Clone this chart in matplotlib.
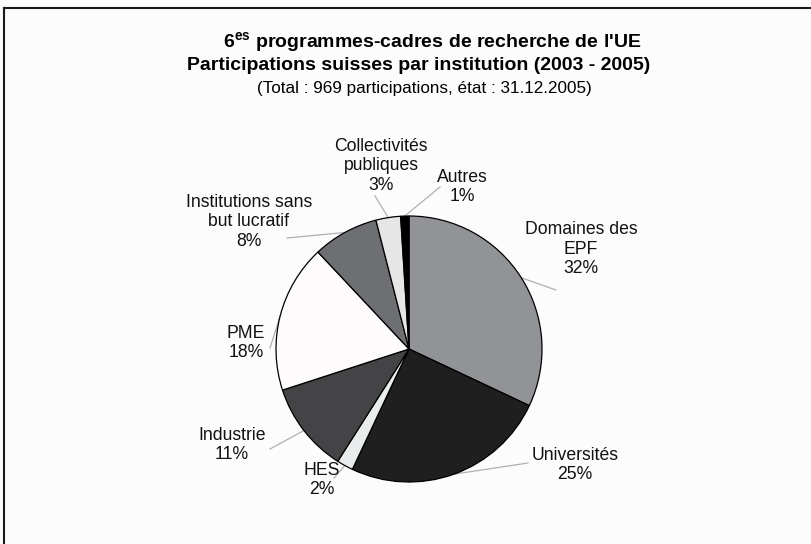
import numpy as np
import matplotlib.pyplot as plt

plt.rcParams['font.family'] = ['Liberation Sans', 'DejaVu Sans']
plt.rcParams['mathtext.fontset'] = 'custom'
plt.rcParams['mathtext.rm'] = 'Liberation Sans'
plt.rcParams['mathtext.bf'] = 'Liberation Sans:bold'

# données
institutions = ['Domaines des\nEPF', 'Universités', 'HES', 'Industrie', 'PME',
                'Institutions sans\nbut lucratif', 'Collectivités\npubliques', 'Autres']
parts = [32, 25, 2, 11, 18, 8, 3, 1]
couleurs = ['#929396', '#1f1f20', '#e9ecec', '#444446', '#fdfbfb',
            '#6e6f72', '#e6e6e6', '#000000']

# position des étiquettes (pixels) et extrémité des traits
label_pos = [(581, 249), (575, 465), (322, 480), (232, 445), (246, 343),
             (249, 222), (381, 166), (462, 187)]
leader_end = [(556, 290), (528, 463), (334, 478), (270, 449), (270, 348),
              (287, 238), (375, 196), (440, 187)]

W, H = 812, 544
cx, cy, r = 409, 349, 133

fig = plt.figure(figsize=(W / 100, H / 100), dpi=100)
fig.patch.set_facecolor('#fcfcfc')
ax = fig.add_axes([0, 0, 1, 1])
ax.set_xlim(0, W)
ax.set_ylim(H, 0)
ax.axis('off')

# pie dessiné dans un axe normal (y vers le haut) : on retourne le centre
ax2 = fig.add_axes([0, 0, 1, 1])
wedges, _ = ax2.pie(parts, colors=couleurs, startangle=90, counterclock=False,
                    center=(cx, H - cy), radius=r, frame=True,
                    wedgeprops=dict(edgecolor='black', linewidth=0.9))
ax2.set_xlim(0, W)
ax2.set_ylim(0, H)
ax2.axis('off')

for w, lab, p, (lx, ly), (ex, ey) in zip(wedges, institutions, parts, label_pos, leader_end):
    ang = np.deg2rad((w.theta1 + w.theta2) / 2)
    sx = cx + r * np.cos(ang)
    sy = cy - r * np.sin(ang)
    ax.plot([sx, ex], [sy, ey], color='#b0b0b0', lw=0.9)
    ax.text(lx, ly, f'{lab}\n{p}%', ha='center', va='center', fontsize=12.7,
            linespacing=1.2, color='#111111')

# titre
ax.text(432, 48, r"6$^{\mathbf{es}}$ programmes-cadres de recherche de l'UE",
        ha='center', va='baseline', fontsize=14, fontweight='bold')
ax.text(419, 70, 'Participations suisses par institution (2003 - 2005)',
        ha='center', va='baseline', fontsize=14, fontweight='bold')
ax.text(424, 93, '(Total : 969 participations, état : 31.12.2005)',
        ha='center', va='baseline', fontsize=12.3)

# cadre (haut et gauche)
ax.plot([4, W], [8, 8], color='#1a1a1a', lw=1.5)
ax.plot([4, 4], [8, H], color='#1a1a1a', lw=1.5)

fig.savefig('out.png', dpi=100, facecolor=fig.get_facecolor())
